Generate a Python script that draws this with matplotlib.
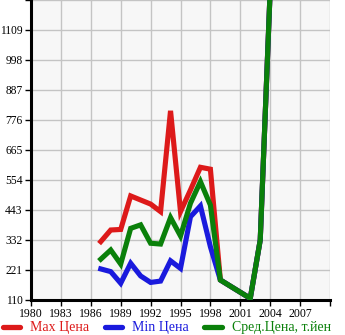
import matplotlib
matplotlib.use("Agg")
import matplotlib.pyplot as plt
from matplotlib.lines import Line2D

years_main = [1987, 1988, 1989, 1990, 1991, 1992, 1993, 1994, 1995, 1996, 1997, 1998, 1999, 2002, 2003, 2004]
max_price = [326, 369, 371, 495, 480, 465, 437, 810, 437, 517, 601, 594, 184, 116, 332, 1260]
min_price = [225, 215, 172, 246, 199, 175, 180, 255, 227, 418, 458, 307, 184, 116, 332, 1260]
avg_price = [261, 295, 243, 375, 388, 320, 317, 415, 347, 468, 548, 461, 184, 116, 332, 1260]

x_ticks = [1980, 1983, 1986, 1989, 1992, 1995, 1998, 2001, 2004, 2007]
y_ticks = [110, 221, 332, 443, 554, 665, 776, 887, 998, 1109]
labels = ["Max Цена", "Min Цена", "Сред.Цена, т.йен"]

RED = "#dd1a1a"
BLUE = "#1a1add"
GREEN = "#0a800a"

plt.rcParams['font.family'] = ['Liberation Serif', 'DejaVu Serif']

fig = plt.figure(figsize=(3.45, 3.35), dpi=100)
ax = fig.add_axes([31/345, 35/335, 299/345, 300/335])
ax.set_facecolor("#f7f7f7")

lw = 3.7
ax.plot(years_main, max_price, color=RED, lw=lw, solid_joinstyle='miter', zorder=3)
ax.plot(years_main, min_price, color=BLUE, lw=lw, solid_joinstyle='miter', zorder=4)
ax.plot(years_main, avg_price, color=GREEN, lw=lw, solid_joinstyle='miter', zorder=5)

ax.set_xlim(1980, 2010)
ax.set_ylim(110, 1220)
ax.set_xticks(x_ticks + [2010])
ax.set_xticklabels([str(t) for t in x_ticks] + [""])
ax.set_yticks(y_ticks + [1220])
ax.set_yticklabels([str(t) for t in y_ticks] + [""])
ax.grid(True, color="#c4c4c4", lw=1.0)
ax.set_axisbelow(True)
for s in ["top", "right"]:
    ax.spines[s].set_visible(False)
for s in ["left", "bottom"]:
    ax.spines[s].set_linewidth(2.2)
    ax.spines[s].set_color("black")
ax.tick_params(axis='x', length=4, width=1, color="black", labelsize=8.5, pad=2)
ax.tick_params(axis='y', length=4, width=1, color="black", labelsize=8.3, pad=2)

handles = [Line2D([0], [0], color=c, lw=3.8, solid_capstyle='round') for c in (RED, BLUE, GREEN)]
leg = fig.legend(handles, labels, loc='center left', bbox_to_anchor=(2.5/345, 7/335), ncol=3,
                 frameon=False, fontsize=10, handlelength=1.25, handletextpad=0.7,
                 columnspacing=1.15, borderaxespad=0, borderpad=0)
for t, c in zip(leg.get_texts(), (RED, BLUE, GREEN)):
    t.set_color(c)

fig.savefig("out.png", dpi=100)
